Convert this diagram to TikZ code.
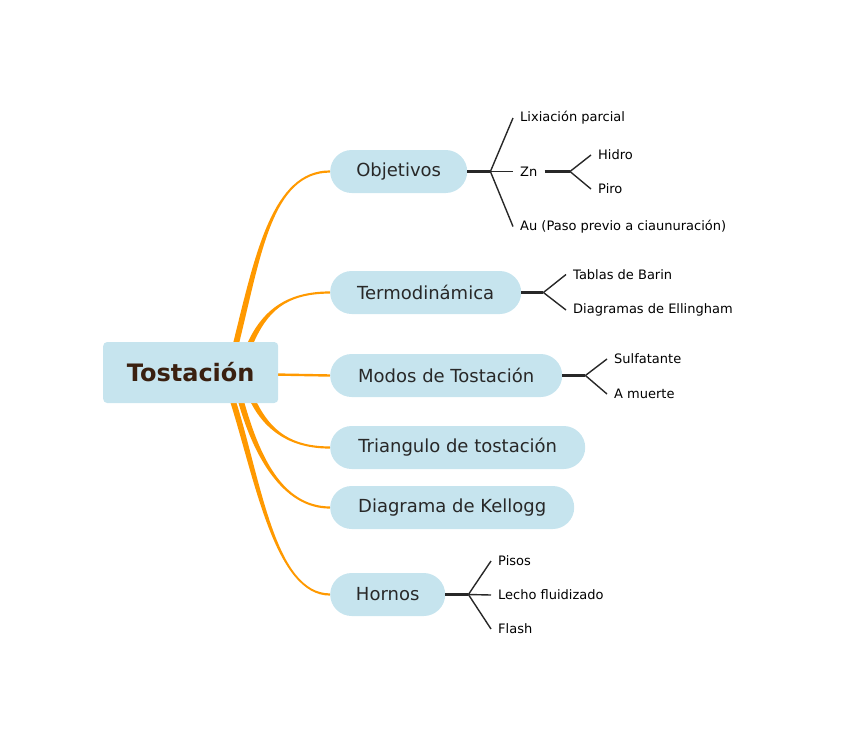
\documentclass[tikz,border=0pt]{standalone}
\usepackage{fontspec}
\setmainfont{DejaVu Sans}
\usepackage{xcolor}
\definecolor{mapblue}{RGB}{198,228,238}
\definecolor{maporange}{RGB}{255,153,0}
\definecolor{mapink}{RGB}{40,40,40}
\definecolor{mapbrown}{RGB}{58,32,16}
\usetikzlibrary{positioning,calc,backgrounds}
\tikzset{
  rootbox/.style ={rectangle,rounded corners=4pt,fill=mapblue,text=mapbrown,anchor=west,
                   minimum width=175pt,minimum height=61pt,font=\fontsize{24}{28}\selectfont\bfseries},
  topic/.style   ={rectangle,rounded corners=21.5pt,fill=mapblue,text=mapink,anchor=west,
                   inner xsep=20pt,minimum height=43pt,font=\fontsize{18}{21}\selectfont},
  leaf/.style    ={anchor=west,inner xsep=7pt,inner ysep=2pt,text=black,font=\fontsize{13}{15}\selectfont},
  limbfill/.style={fill=maporange},
  limbline/.style={draw=maporange,line width=2.4pt},
  trunk/.style   ={draw=mapink,line width=2.4pt},
  twig/.style    ={draw=mapink,line width=1.4pt},
}
% tapered orange branch: start, control, control, end, half width at the end
\newcommand\orangelimb[5]{%
  \fill[limbfill] ($#1+(-3,0)$) .. controls ($#2+(-3,0)$) and ($#3-(0,#5)$) .. ($#4-(0,#5)$)
    -- ($#4+(0,#5)$) .. controls ($#3+(0,#5)$) and ($#2+(3,0)$) .. ($#1+(3,0)$) -- cycle;}

\begin{document}
\begin{tikzpicture}[x=1pt,y=-1pt]
  \useasboundingbox (0,0) rectangle (848,745);
  \node[rootbox] (root) at (103,372.5) {Tostación};
  \node[topic,minimum width=137pt] (obj) at (330,171.5) {Objetivos};
  \node[topic,minimum width=191pt] (termo) at (330,292.5) {Termodinámica};
  \node[topic,minimum width=232pt] (modos) at (330,375.5) {Modos de Tostación};
  \node[topic,minimum width=255pt] (tri) at (330,447.5) {Triangulo de tostación};
  \node[topic,minimum width=244pt] (kel) at (330,507.5) {Diagrama de Kellogg};
  \node[topic,minimum width=115pt] (hor) at (330,594.5) {Hornos};
  % forks
  \coordinate[right=23pt of obj] (objfork);
  \coordinate[right=22pt of termo] (termofork);
  \coordinate[right=23pt of modos] (modosfork);
  \coordinate[right=23pt of hor] (horfork);
  % leaves
  \node[leaf] (lix) at (513,118) {Lixiación parcial};
  \node[leaf] (zn) at (513,171.5) {Zn};
  \node[leaf] (au) at (513,226.5) {Au (Paso previo a ciaunuración)};
  \coordinate (znfork) at (570,171.5);
  \node[leaf] (hidro) at (591,155) {Hidro};
  \node[leaf] (piro) at (591,189) {Piro};
  \node[leaf] (barin) at (566,274.5) {Tablas de Barin};
  \node[leaf] (elling) at (566,310) {Diagramas de Ellingham};
  \node[leaf] (sulf) at (607,359) {Sulfatante};
  \node[leaf] (muerte) at (607,394) {A muerte};
  \node[leaf] (pisos) at (491,561) {Pisos};
  \node[leaf] (lecho) at (491,595) {Lecho fluidizado};
  \node[leaf] (flash) at (491,629) {Flash};
  \foreach \x/\y in {obj/objfork,zn/znfork,termo/termofork,modos/modosfork,hor/horfork}{\draw[trunk] (\x) -- (\y);}
  \foreach \x/\y in {objfork/lix,objfork/zn,objfork/au,znfork/hidro,znfork/piro,termofork/barin,termofork/elling,
                     modosfork/sulf,modosfork/muerte,horfork/pisos,horfork/lecho,horfork/flash}{\draw[twig] (\x) -- (\y.west);}
  \begin{scope}[on background layer]
    \orangelimb{(root.north)+(45,3)}{(258,255)}{(272,171.5)}{(obj.west)}{1.1}
    \orangelimb{(root.north)+(59,3)}{(264,312)}{(285,292.5)}{(termo.west)}{1.1}
    \draw[limbline] ($(root.east)+(-4,2)$) -- (modos.west);
    \orangelimb{(root.south)+(62,-3)}{(268,432)}{(292,447.5)}{(tri.west)}{-1.1}
    \orangelimb{(root.south)+(50,-3)}{(256,455)}{(282,507.5)}{(kel.west)}{-1.1}
    \orangelimb{(root.south)+(42,-3)}{(258,480)}{(275,594.5)}{(hor.west)}{-1.1}
  \end{scope}
\end{tikzpicture}
\end{document}
